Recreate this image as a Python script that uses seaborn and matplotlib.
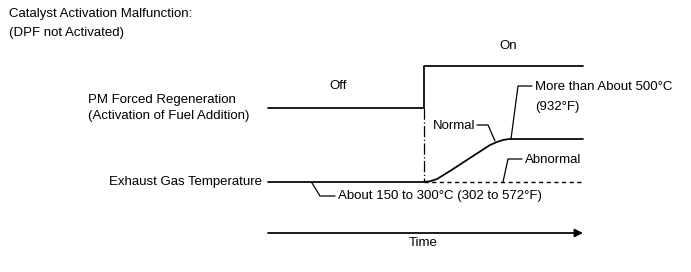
import matplotlib
matplotlib.use("Agg")
import matplotlib.pyplot as plt
import seaborn as sns
import pandas as pd

sns.set_theme(style="white")
plt.rcParams['font.family'] = ['Liberation Sans', 'DejaVu Sans']
plt.rcParams['text.color'] = 'black'

# --- data (diagram units: x = time position, y = signal level, screen-like) ---
pm_time = [268, 424, 424, 583]
pm_level = [108, 108, 66, 66]

egt_time = [268, 422, 430, 437, 450, 470, 490, 497, 503, 509, 583]
egt_level = [182, 182, 181.3, 179, 171, 158, 145, 142, 140, 139, 139]

abn_time = [424, 583]
abn_level = [182, 182]

switch_time = [424, 424]
switch_level = [108, 182]

time_axis = [268, 583]
time_axis_y = 233

FS = 9.5
fig = plt.figure(figsize=(6.91, 2.72), dpi=100)
ax = fig.add_axes([0, 0, 1, 1])

lw = 1.25
k = dict(color="black", linewidth=lw, estimator=None, sort=False, ax=ax, legend=False)
sns.lineplot(data=pd.DataFrame({"t": pm_time, "v": pm_level}), x="t", y="v", **k)
sns.lineplot(data=pd.DataFrame({"t": egt_time, "v": egt_level}), x="t", y="v", **k)
sns.lineplot(data=pd.DataFrame({"t": abn_time, "v": abn_level}), x="t", y="v",
             linestyle=(0, (3, 2.5)), **{**k, "linewidth": 1.0})
sns.lineplot(data=pd.DataFrame({"t": switch_time, "v": switch_level}), x="t", y="v",
             linestyle=(0, (9, 2, 1, 2)), **{**k, "linewidth": 0.9})
ax.set_xlim(0, 691)
ax.set_ylim(272, 0)
ax.axis("off")

# time axis arrow
ax.annotate("", xy=(time_axis[1], time_axis_y), xytext=(time_axis[0], time_axis_y),
            arrowprops=dict(arrowstyle="-|>", color="black", lw=lw,
                            mutation_scale=12, shrinkA=0, shrinkB=0))
tk = dict(fontsize=FS, color="black")
ax.text(423, 243, "Time", ha="center", va="center", **tk)

# titles / labels
ax.text(9, 14, "Catalyst Activation Malfunction:", ha="left", va="center", **tk)
ax.text(9, 33, "(DPF not Activated)", ha="left", va="center", **tk)
ax.text(88, 100, "PM Forced Regeneration", ha="left", va="center", **tk)
ax.text(88, 116, "(Activation of Fuel Addition)", ha="left", va="center", **tk)
ax.text(262, 182, "Exhaust Gas Temperature", ha="right", va="center", **tk)
ax.text(508, 46, "On", ha="center", va="center", **tk)
ax.text(338, 86, "Off", ha="center", va="center", **tk)

# leaders
lk = dict(color="black", linewidth=0.9)
ax.plot([312, 320, 335], [183, 196, 196], **lk)
ax.text(338, 196, "About 150 to 300°C (302 to 572°F)", ha="left", va="center", **tk)

ax.plot([477, 488, 495], [125, 125, 141], **lk)
ax.text(475, 126, "Normal", ha="right", va="center", **tk)

ax.plot([511, 518, 532], [139, 86, 86], **lk)
ax.text(535, 87, "More than About 500°C", ha="left", va="center", **tk)
ax.text(535, 107, "(932°F)", ha="left", va="center", **tk)

ax.plot([503, 508, 522], [182, 159, 159], **lk)
ax.text(525, 160, "Abnormal", ha="left", va="center", **tk)

fig.savefig("out.png", dpi=100, facecolor="white")
